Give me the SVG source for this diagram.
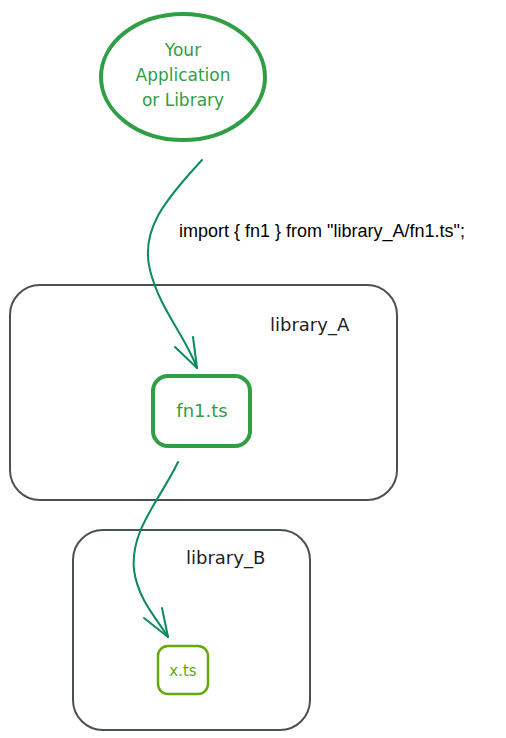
<svg xmlns="http://www.w3.org/2000/svg" width="506" height="738" viewBox="0 0 506 738">
<style>
.hand{font-family:"DejaVu Sans","Liberation Sans",sans-serif;}
.grey{fill:none;stroke:#495057;stroke-width:2;}
.conn{fill:none;stroke:#0b8a5e;stroke-width:2;stroke-linecap:round;}
</style>
<rect width="506" height="738" fill="#ffffff"/>
<g id="app">
<ellipse cx="183" cy="77" rx="82" ry="63" fill="none" stroke="#2f9e44" stroke-width="4"/>
<text class="hand" x="183" y="56" font-size="17" fill="#2f9e44" text-anchor="middle">Your</text>
<text class="hand" x="183" y="81" font-size="17" fill="#2f9e44" text-anchor="middle">Application</text>
<text class="hand" x="183" y="106" font-size="17" fill="#2f9e44" text-anchor="middle">or Library</text>
</g>
<g id="library_A">
<rect class="grey" x="10" y="285" width="387" height="215" rx="30"/>
<text class="hand" x="270" y="331" font-size="18" fill="#1e1e1e">library_A</text>
</g>
<g id="fn1">
<rect x="153" y="376" width="97" height="70" rx="15" fill="none" stroke="#2f9e44" stroke-width="4"/>
<text class="hand" x="202" y="417" font-size="18" fill="#2f9e44" text-anchor="middle">fn1.ts</text>
</g>
<g id="library_B">
<rect class="grey" x="73" y="530" width="237" height="200" rx="30"/>
<text class="hand" x="186" y="564" font-size="18" fill="#1e1e1e">library_B</text>
</g>
<g id="x">
<rect x="158" y="646" width="50" height="48" rx="10" fill="none" stroke="#66a80f" stroke-width="2.5"/>
<text class="hand" x="183" y="676" font-size="15" fill="#66a80f" text-anchor="middle">x.ts</text>
</g>
<g id="connectors">
<path class="conn" d="M202,160 C165,200 140,230 150,270 C160,310 185,335 197,368"/>
<path class="conn" d="M197,368 L175,347 M197,368 L193,337"/>
<path class="conn" d="M178,462 C160,500 130,530 134,570 C138,600 158,620 168,637"/>
<path class="conn" d="M168,637 L144,618 M168,637 L162,608"/>
<text x="179" y="237" font-family="Liberation Sans,Arial,sans-serif" font-size="18" fill="#000000">import { fn1 } from "library_A/fn1.ts";</text>
</g>
</svg>
